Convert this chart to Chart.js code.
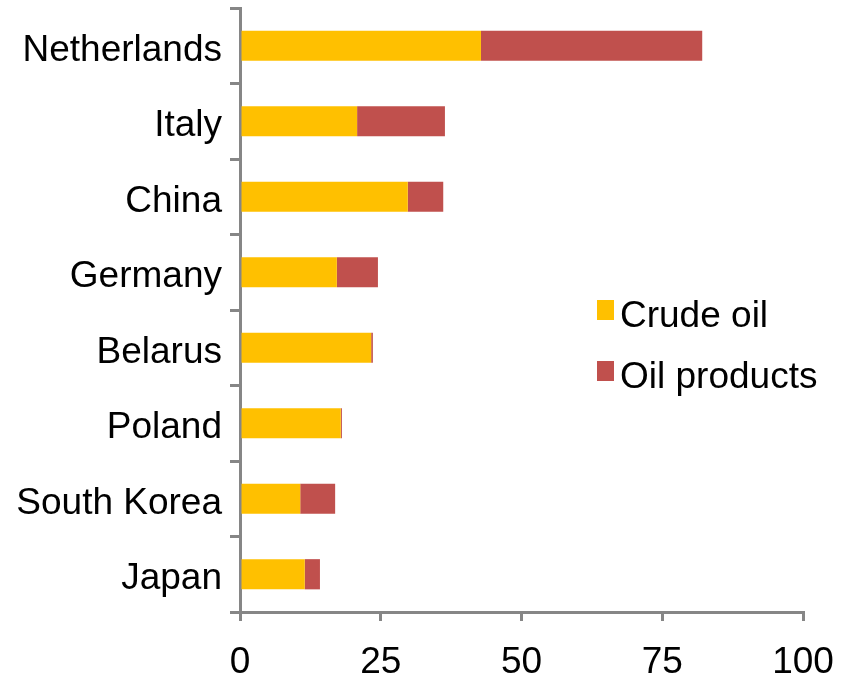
<!DOCTYPE html>
<html>
<head>
    <title>Crude oil and oil products</title>
    <script src="https://cdn.jsdelivr.net/npm/chart.js"></script>
    <style>
        html, body { margin: 0; padding: 0; background: #ffffff; }
        .chart-box { position: relative; width: 858px; height: 679px; }
    </style>
</head>
<body>
    <div class="chart-box">
        <canvas id="oilChart" width="858" height="679"></canvas>
    </div>

    <script>
        // data
        const countries = ['Netherlands', 'Italy', 'China', 'Germany', 'Belarus', 'Poland', 'South Korea', 'Japan'];
        const crudeOil = [42.8, 20.8, 29.8, 17.2, 23.3, 17.9, 10.7, 11.5];
        const oilProducts = [39.3, 15.6, 6.3, 7.3, 0.3, 0.2, 6.2, 2.7];
        const xTicks = [0, 25, 50, 75, 100];

        const axisGray = '#868686';
        const font37 = { family: 'Arial, "Liberation Sans", sans-serif', size: 37 };

        // legend drawn inside the plot, stacked vertically like the original
        const insideLegend = {
            id: 'insideLegend',
            afterDraw(chart, args, opts) {
                const ctx = chart.ctx;
                ctx.save();
                ctx.font = '37px Arial, "Liberation Sans", sans-serif';
                ctx.textBaseline = 'alphabetic';
                ctx.textAlign = 'left';
                chart.data.datasets.forEach((ds, i) => {
                    const y = opts.top + i * opts.step;
                    ctx.fillStyle = ds.backgroundColor;
                    ctx.fillRect(opts.left, y, 17, 20);
                    ctx.fillStyle = '#000000';
                    ctx.fillText(ds.label, opts.left + 23, y + 27);
                });
                ctx.restore();
            }
        };

        const config = {
            type: 'bar',
            data: {
                labels: countries,
                datasets: [{
                    label: 'Crude oil',
                    data: crudeOil,
                    backgroundColor: '#FFC000',
                    borderWidth: 0
                }, {
                    label: 'Oil products',
                    data: oilProducts,
                    backgroundColor: '#C0504D',
                    borderWidth: 0
                }]
            },
            options: {
                indexAxis: 'y',
                responsive: false,
                animation: false,
                layout: { padding: { top: 8, right: 55, bottom: 0, left: 0 } },
                barPercentage: 0.4,
                categoryPercentage: 1.0,
                plugins: {
                    legend: { display: false },
                    tooltip: { enabled: false },
                    insideLegend: { left: 597, top: 300, step: 61 }
                },
                scales: {
                    x: {
                        stacked: true,
                        min: 0,
                        max: 100,
                        afterBuildTicks: (axis) => { axis.ticks = xTicks.map(v => ({ value: v })); },
                        afterFit: (axis) => { axis.height = 67; },
                        grid: {
                            drawOnChartArea: false,
                            color: axisGray,
                            lineWidth: 3,
                            tickLength: 9
                        },
                        border: { color: axisGray, width: 3 },
                        ticks: {
                            color: '#000000',
                            font: font37,
                            padding: 20,
                            maxRotation: 0
                        }
                    },
                    y: {
                        stacked: true,
                        afterFit: (axis) => {
                            axis.width = 240;
                            axis.paddingTop = 0;
                            axis.paddingBottom = 0;
                        },
                        grid: {
                            offset: true,
                            drawOnChartArea: false,
                            color: axisGray,
                            lineWidth: 3,
                            tickLength: 10
                        },
                        border: { color: axisGray, width: 3 },
                        ticks: {
                            color: '#000000',
                            font: font37,
                            padding: 8,
                            labelOffset: 5
                        }
                    }
                }
            },
            plugins: [insideLegend]
        };

        new Chart(document.getElementById('oilChart'), config);
    </script>
</body>
</html>
